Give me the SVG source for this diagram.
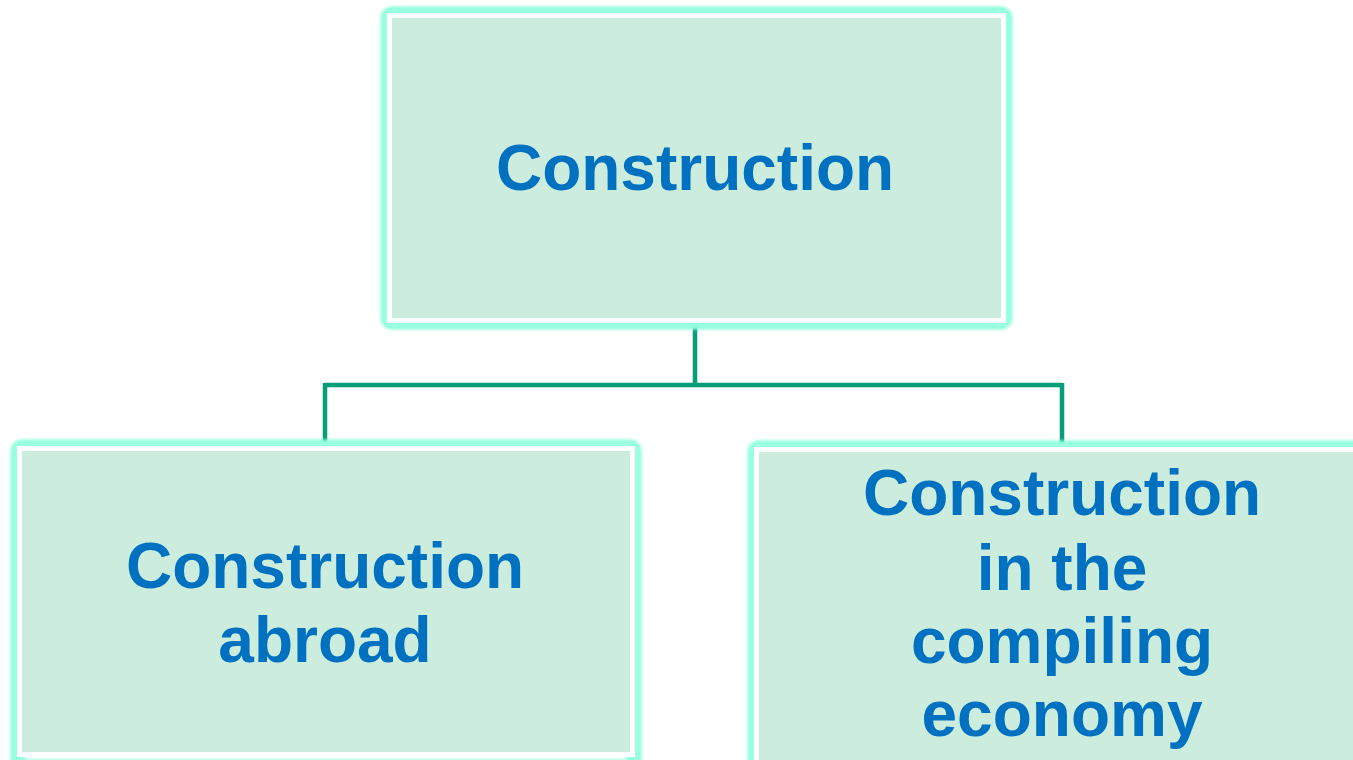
<svg xmlns="http://www.w3.org/2000/svg" width="1353" height="760" viewBox="0 0 1353 760">
<defs>
<style>
.glow{fill:none;stroke:#8FFFDD;stroke-width:15;filter:url(#blur)}
.halo{fill:none;stroke:#99FFE0;stroke-width:9}
.box{fill:#CCEDDD;stroke:#FFFFFF;stroke-width:5}
.t{font-family:"Liberation Sans",Arial,sans-serif;font-weight:bold;font-size:64px;fill:#0070C0;text-anchor:middle}
.c{stroke:#069E76;stroke-width:4.5;fill:none}
</style>
<filter id="blur" x="-10%" y="-10%" width="120%" height="120%"><feGaussianBlur stdDeviation="1.8"/></filter>
</defs>
<rect width="1353" height="760" fill="#FFFFFF"/>
<g id="connectors">
<path class="c" d="M695 323 V385 M325 385 H1062 M325 383 V446 M1062 383 V447"/>
</g>
<g id="node-construction">
<rect class="glow" x="388" y="14" width="617" height="308" rx="4"/>
<rect class="halo" x="388" y="14" width="617" height="308" rx="3"/>
<rect class="box" x="389.5" y="15.5" width="614" height="305"/>
<text class="t" x="695" y="190">Construction</text>
</g>
<g id="node-abroad">
<rect class="glow" x="18" y="447" width="616" height="320" rx="4"/>
<rect class="halo" x="18" y="447" width="616" height="320" rx="3"/>
<rect class="box" x="19.5" y="448.5" width="613" height="306"/>
<text class="t" x="325" y="588">Construction</text>
<text class="t" x="325" y="662">abroad</text>
</g>
<g id="node-compiling">
<rect class="glow" x="755" y="448" width="620" height="330" rx="4"/>
<rect class="halo" x="755" y="448" width="620" height="330" rx="3"/>
<rect class="box" x="756.5" y="449.5" width="610" height="320"/>
<text class="t" x="1062" y="515">Construction</text>
<text class="t" x="1062" y="590">in the</text>
<text class="t" x="1062" y="663">compiling</text>
<text class="t" x="1062" y="736">economy</text>
</g>
</svg>
